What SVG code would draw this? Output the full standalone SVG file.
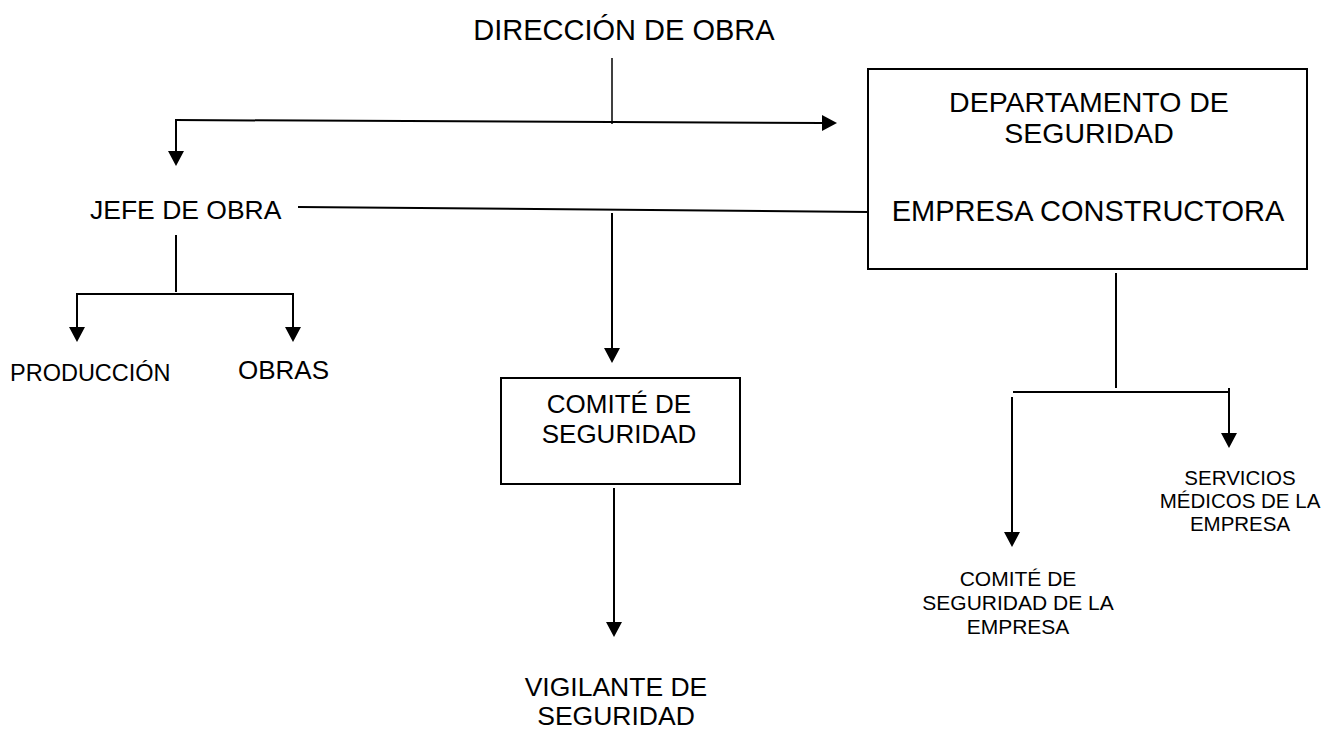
<svg xmlns="http://www.w3.org/2000/svg" width="1325" height="731" viewBox="0 0 1325 731">
  <style>
    text { font-family: "Liberation Sans", Arial, sans-serif; fill: #000; }
    .ln { stroke: #000; stroke-width: 2; fill: none; }
    .box { stroke: #000; stroke-width: 2; fill: #fff; }
  </style>
  <defs>
    <marker id="ah" viewBox="0 0 15 16" refX="0" refY="8" markerWidth="15" markerHeight="16" markerUnits="userSpaceOnUse" orient="auto">
      <path d="M0,0 L15,8 L0,16 z" fill="#000"/>
    </marker>
  </defs>
  <rect width="1325" height="731" fill="#fff"/>

  <g id="connectors">
    <line class="ln" x1="612" y1="58" x2="612" y2="124" style="stroke-width:1.5"/>
    <line class="ln" x1="175" y1="120" x2="822" y2="123" marker-end="url(#ah)"/>
    <line class="ln" x1="176" y1="120" x2="176" y2="151" marker-end="url(#ah)"/>
    <line class="ln" x1="298" y1="207" x2="868" y2="212"/>
    <line class="ln" x1="176" y1="235" x2="176" y2="292"/>
    <line class="ln" x1="76" y1="294" x2="294" y2="294"/>
    <line class="ln" x1="77" y1="294" x2="77" y2="327" marker-end="url(#ah)"/>
    <line class="ln" x1="293" y1="294" x2="293" y2="327" marker-end="url(#ah)"/>
    <line class="ln" x1="612" y1="213" x2="612" y2="348" marker-end="url(#ah)"/>
    <line class="ln" x1="614" y1="488" x2="614" y2="622" marker-end="url(#ah)"/>
    <line class="ln" x1="1116" y1="273" x2="1116" y2="388"/>
    <line class="ln" x1="1013" y1="392" x2="1230" y2="392"/>
    <line class="ln" x1="1229" y1="388" x2="1229" y2="433" marker-end="url(#ah)"/>
    <line class="ln" x1="1012" y1="397" x2="1012" y2="532" marker-end="url(#ah)"/>
  </g>

  <g id="direccion">
    <text x="624" y="40" font-size="29" text-anchor="middle">DIRECCIÓN DE OBRA</text>
  </g>

  <g id="departamento">
    <rect class="box" x="868" y="69" width="439" height="200"/>
    <text x="1089" y="112" font-size="28.5" text-anchor="middle">DEPARTAMENTO DE</text>
    <text x="1089" y="143" font-size="28.5" text-anchor="middle">SEGURIDAD</text>
    <text x="1088" y="221" font-size="29" text-anchor="middle">EMPRESA CONSTRUCTORA</text>
  </g>

  <g id="jefe">
    <text x="90" y="219" font-size="26.5">JEFE DE OBRA</text>
  </g>

  <g id="produccion">
    <text x="10" y="381" font-size="23.5">PRODUCCIÓN</text>
  </g>

  <g id="obras">
    <text x="238" y="379" font-size="26">OBRAS</text>
  </g>

  <g id="comite">
    <rect class="box" x="501" y="378" width="239" height="106"/>
    <text x="619" y="413" font-size="26" text-anchor="middle">COMITÉ DE</text>
    <text x="619" y="443" font-size="26" text-anchor="middle">SEGURIDAD</text>
  </g>

  <g id="vigilante">
    <text x="616" y="696" font-size="26.5" text-anchor="middle">VIGILANTE DE</text>
    <text x="616" y="725" font-size="26.5" text-anchor="middle">SEGURIDAD</text>
  </g>

  <g id="comite-empresa">
    <text x="1018" y="586" font-size="21" text-anchor="middle">COMITÉ DE</text>
    <text x="1018" y="610" font-size="21" text-anchor="middle">SEGURIDAD DE LA</text>
    <text x="1018" y="634" font-size="21" text-anchor="middle">EMPRESA</text>
  </g>

  <g id="servicios">
    <text x="1240" y="485" font-size="20.5" text-anchor="middle">SERVICIOS</text>
    <text x="1240" y="508" font-size="20.5" text-anchor="middle">MÉDICOS DE LA</text>
    <text x="1240" y="531" font-size="20.5" text-anchor="middle">EMPRESA</text>
  </g>
</svg>
